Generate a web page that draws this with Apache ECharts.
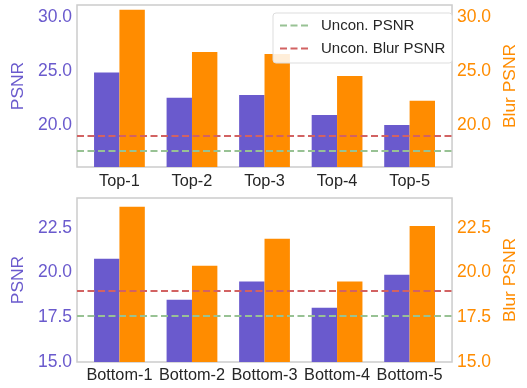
<!DOCTYPE html>
<html>
<head>
<meta charset="utf-8">
<script src="https://cdn.jsdelivr.net/npm/echarts@6/dist/echarts.min.js"></script>
<style>
  html, body { margin: 0; padding: 0; background: #ffffff; }
  #chart { width: 527px; height: 388px; }
</style>
</head>
<body>
<div id="chart"></div>
<script>
// PSNR / Blur PSNR for the top-ranked and bottom-ranked samples
const topCategories = ['Top-1', 'Top-2', 'Top-3', 'Top-4', 'Top-5'];
const topPsnr = [24.87, 22.54, 22.79, 20.93, 20.0];
const topBlurPsnr = [30.7, 26.79, 26.6, 24.56, 22.26];

const bottomCategories = ['Bottom-1', 'Bottom-2', 'Bottom-3', 'Bottom-4', 'Bottom-5'];
const bottomPsnr = [20.77, 18.47, 19.5, 18.03, 19.87];
const bottomBlurPsnr = [23.67, 20.37, 21.88, 19.5, 22.6];

// unconditioned reference levels
const unconPsnr = 17.6;
const unconBlurPsnr = 19.0;

const topTicks = [20, 25, 30];
const bottomTicks = [15, 17.5, 20, 22.5];
const topRange = [16.1, 31.15];
const bottomRange = [15, 24.16];
const categoryIndex = [0, 1, 2, 3, 4];

const PURPLE = '#6A5ACD';
const ORANGE = '#FF8C00';
const GREEN = '#98c294';
const RED = '#d26262';
const FONT = 'Liberation Sans, Arial, sans-serif';
// three short dashes, used as the legend key of the reference lines
const DASH_ICON = 'path://M0,0h7v2h-7z M10.5,0h7v2h-7z M21,0h7v2h-7z';

const chart = echarts.init(document.getElementById('chart'), null, { renderer: 'canvas' });

function xAxisFor(gridIndex, names, margin) {
  return {
    type: 'value', gridIndex,
    min: -0.585, max: 4.585,
    axisLine: { show: false }, axisTick: { show: false }, splitLine: { show: false },
    axisLabel: {
      customValues: categoryIndex,
      formatter: v => names[Math.round(v)],
      color: '#262626', fontSize: 16.3, fontFamily: FONT, margin
    }
  };
}

function yAxisFor(gridIndex, range, ticks, side, name, color, gap) {
  return {
    type: 'value', gridIndex, position: side,
    min: range[0], max: range[1],
    name, nameLocation: 'middle', nameGap: gap,
    nameTextStyle: { color, fontSize: 17.4, fontFamily: FONT },
    axisLine: { show: false }, axisTick: { show: false }, splitLine: { show: false },
    axisLabel: {
      customValues: ticks,
      formatter: v => v.toFixed(1),
      color, fontSize: 17.5, fontFamily: FONT, margin: 5
    }
  };
}

function pairs(values) { return values.map((v, i) => [i, v]); }

function barSeries(name, values, xi, yi, color) {
  return {
    type: 'bar', name, xAxisIndex: xi, yAxisIndex: yi,
    data: pairs(values), barWidth: '35%', barGap: '0%',
    itemStyle: { color }, silent: true, z: 2
  };
}

function refLine(name, value, xi, yi, color) {
  return {
    type: 'line', name, xAxisIndex: xi, yAxisIndex: yi, data: [],
    symbol: 'none', color,
    lineStyle: { color, width: 2, type: [7, 3.5] },
    markLine: {
      silent: true, symbol: 'none', label: { show: false },
      lineStyle: { color, width: 2, type: [7, 3.5] },
      data: [{ yAxis: value }]
    },
    z: 5
  };
}

const option = {
  animation: false,
  backgroundColor: '#ffffff',
  textStyle: { fontFamily: FONT },
  grid: [
    { left: 77, top: 5, width: 382, height: 162, show: true, borderColor: '#cccccc', borderWidth: 1.5, containLabel: false },
    { left: 77, top: 198, width: 382, height: 164, show: true, borderColor: '#cccccc', borderWidth: 1.5, containLabel: false }
  ],
  xAxis: [xAxisFor(0, topCategories, 7), xAxisFor(1, bottomCategories, 6)],
  yAxis: [
    yAxisFor(0, topRange, topTicks, 'left', 'PSNR', PURPLE, 47),
    yAxisFor(0, topRange, topTicks, 'right', 'Blur PSNR', ORANGE, 46),
    yAxisFor(1, bottomRange, bottomTicks, 'left', 'PSNR', PURPLE, 47),
    yAxisFor(1, bottomRange, bottomTicks, 'right', 'Blur PSNR', ORANGE, 46)
  ],
  legend: {
    left: 273, top: 13, orient: 'vertical',
    data: [
      { name: 'Uncon. PSNR', icon: DASH_ICON },
      { name: 'Uncon. Blur PSNR', icon: DASH_ICON }
    ],
    itemWidth: 30, itemHeight: 2, itemGap: 8,
    padding: [5, 7, 7, 7],
    borderColor: '#dddddd', borderWidth: 1, borderRadius: 3,
    backgroundColor: 'rgba(255,255,255,0.85)',
    textStyle: { color: '#262626', fontSize: 15, fontFamily: FONT, padding: [0, 0, 0, 7], lineHeight: 14 }
  },
  series: [
    barSeries('PSNR', topPsnr, 0, 0, PURPLE),
    barSeries('Blur PSNR', topBlurPsnr, 0, 1, ORANGE),
    refLine('Uncon. PSNR', unconPsnr, 0, 0, GREEN),
    refLine('Uncon. Blur PSNR', unconBlurPsnr, 0, 0, RED),
    barSeries('PSNR ', bottomPsnr, 1, 2, PURPLE),
    barSeries('Blur PSNR ', bottomBlurPsnr, 1, 3, ORANGE),
    refLine('Uncon. PSNR', unconPsnr, 1, 2, GREEN),
    refLine('Uncon. Blur PSNR', unconBlurPsnr, 1, 2, RED)
  ]
};

chart.setOption(option);
</script>
</body>
</html>
